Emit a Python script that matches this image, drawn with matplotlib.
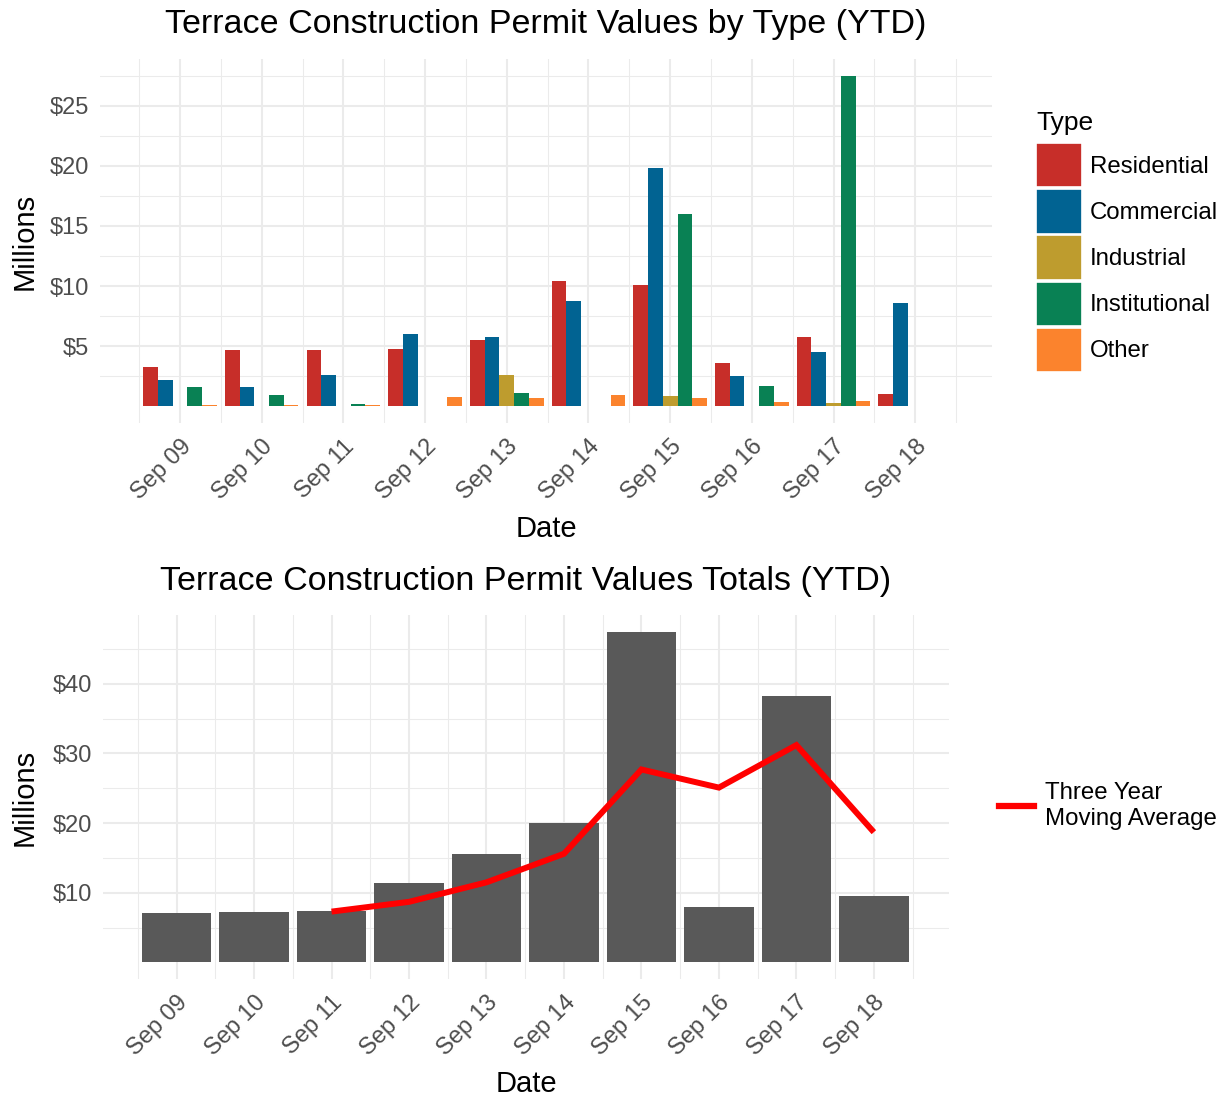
import matplotlib
matplotlib.use("Agg")
import matplotlib.pyplot as plt
import numpy as np
from matplotlib.patches import Patch
from matplotlib.lines import Line2D
from matplotlib.ticker import FixedLocator

plt.rcParams['font.family'] = ['Liberation Sans', 'DejaVu Sans']

dates = ["Sep 09", "Sep 10", "Sep 11", "Sep 12", "Sep 13",
         "Sep 14", "Sep 15", "Sep 16", "Sep 17", "Sep 18"]
types = ["Residential", "Commercial", "Industrial", "Institutional", "Other"]
residential   = [3.3, 4.7, 4.7, 4.8, 5.5, 10.4, 10.1, 3.6, 5.8, 1.05]
commercial    = [2.2, 1.6, 2.6, 6.0, 5.8, 8.8, 19.8, 2.5, 4.5, 8.6]
industrial    = [0.05, 0.05, 0.05, 0.05, 2.6, 0.05, 0.9, 0.05, 0.3, 0.05]
institutional = [1.6, 0.95, 0.2, 0.05, 1.1, 0.05, 16.0, 1.7, 27.5, 0.05]
other         = [0.14, 0.14, 0.14, 0.8, 0.7, 0.95, 0.7, 0.4, 0.45, 0.05]
totals        = [7.1, 7.3, 7.4, 11.4, 15.6, 20.0, 47.5, 8.0, 38.3, 9.6]
moving_avg    = [None, None, 7.3, 8.7, 11.5, 15.6, 27.7, 25.1, 31.2, 18.7]

colors = ["#c72e29", "#016392", "#be9c2e", "#098154", "#fb832d"]
series = [residential, commercial, industrial, institutional, other]

W, H = 1224, 1098
fig = plt.figure(figsize=(W / 100, H / 100), dpi=100)

def px_axes(l, t, r, b):
    return fig.add_axes([l / W, 1 - b / H, (r - l) / W, (b - t) / H])

grid_col = "#ebebeb"
tick_col = "#4d4d4d"
TICK_FS = 17
LAB_FS = 21
TITLE_FS = 24.5
LEG_FS = 17.3

def style(ax):
    for s in ax.spines.values():
        s.set_visible(False)
    ax.set_axisbelow(True)
    ax.grid(which='major', color=grid_col, linewidth=1.5)
    ax.grid(which='minor', color=grid_col, linewidth=0.75)
    ax.tick_params(which='both', length=0)
    ax.tick_params(axis='y', labelsize=TICK_FS, labelcolor=tick_col, pad=8)
    ax.tick_params(axis='x', labelsize=TICK_FS, labelcolor=tick_col, pad=9)

def place_labels(ax, top_px, bot_px, left_px, xlab_y_px, ylab_x_px):
    h = bot_px - top_px
    ax.xaxis.set_label_coords(0.5, (bot_px - xlab_y_px) / h)
    ax.xaxis.label.set_va('center')
    axw = ax.get_position().width * W
    ax.yaxis.set_label_coords((ylab_x_px - left_px) / axw, 0.5)
    ax.yaxis.label.set_va('center')

x = np.arange(len(dates))

# ---------- Top chart ----------
T1, B1, L1, R1 = 59, 423, 100, 992
ax1 = px_axes(L1, T1, R1, B1)
style(ax1)
n = len(types)
group_w = 0.9
bw = group_w / n
for i, (vals, c) in enumerate(zip(series, colors)):
    ax1.bar(x - group_w / 2 + bw * (i + 0.5), vals, width=bw, color=c, label=types[i])
ax1.set_xlim(-0.98, 9.94)
ax1.set_ylim(-1.375, 28.875)
ax1.yaxis.set_major_locator(FixedLocator([5, 10, 15, 20, 25]))
ax1.yaxis.set_minor_locator(FixedLocator([2.5, 7.5, 12.5, 17.5, 22.5, 27.5]))
ax1.set_yticklabels(["$5", "$10", "$15", "$20", "$25"])
ax1.xaxis.set_major_locator(FixedLocator(x))
ax1.xaxis.set_minor_locator(FixedLocator(np.arange(-0.5, 10.0, 1.0)))
ax1.set_xticklabels(dates, rotation=45, ha='right', rotation_mode='anchor')
ax1.set_xlabel("Date", fontsize=LAB_FS)
ax1.set_ylabel("Millions", fontsize=LAB_FS)
place_labels(ax1, T1, B1, L1, 529, 25)
ax1.set_title("Terrace Construction Permit Values by Type (YTD)", fontsize=TITLE_FS, pad=19)

handles = [Patch(facecolor=c, edgecolor='white', linewidth=1.2) for c in colors]
leg = fig.legend(handles, types, loc='upper left', bbox_to_anchor=(1036 / W, 1 - 111 / H),
                 frameon=False, fontsize=LEG_FS, title="Type", title_fontsize=19,
                 handlelength=1.9, handleheight=2.45, labelspacing=0.08,
                 handletextpad=0.33, borderaxespad=0, borderpad=0)
leg._legend_box.align = "left"
leg._legend_box.sep = 6

# ---------- Bottom chart ----------
T2, B2, L2, R2 = 615, 979, 103, 949
ax2 = px_axes(L2, T2, R2, B2)
style(ax2)
ax2.bar(x, totals, width=0.9, color="#595959")
mx = [i for i, v in enumerate(moving_avg) if v is not None]
my = [v for v in moving_avg if v is not None]
ax2.plot(mx, my, color="#ff0000", linewidth=4.3, solid_joinstyle='miter', solid_capstyle='butt')
ax2.set_xlim(-0.95, 9.97)
ax2.set_ylim(-2.375, 49.875)
ax2.yaxis.set_major_locator(FixedLocator([10, 20, 30, 40]))
ax2.yaxis.set_minor_locator(FixedLocator([5, 15, 25, 35, 45]))
ax2.set_yticklabels(["$10", "$20", "$30", "$40"])
ax2.xaxis.set_major_locator(FixedLocator(x))
ax2.xaxis.set_minor_locator(FixedLocator(np.arange(-0.5, 10.0, 1.0)))
ax2.set_xticklabels(dates, rotation=45, ha='right', rotation_mode='anchor')
ax2.set_xlabel("Date", fontsize=LAB_FS)
ax2.set_ylabel("Millions", fontsize=LAB_FS)
place_labels(ax2, T2, B2, L2, 1084, 25)
ax2.set_title("Terrace Construction Permit Values Totals (YTD)", fontsize=TITLE_FS, pad=18)

leg2 = fig.legend([Line2D([0], [0], color="#ff0000", linewidth=4.5)],
                  ["Three Year\nMoving Average"], loc='center left',
                  bbox_to_anchor=(999 / W, 1 - 806 / H), frameon=False, fontsize=LEG_FS,
                  handlelength=1.45, handletextpad=0.45, borderaxespad=0, borderpad=0,
                  labelspacing=0)

fig.savefig("out.png", dpi=100)
